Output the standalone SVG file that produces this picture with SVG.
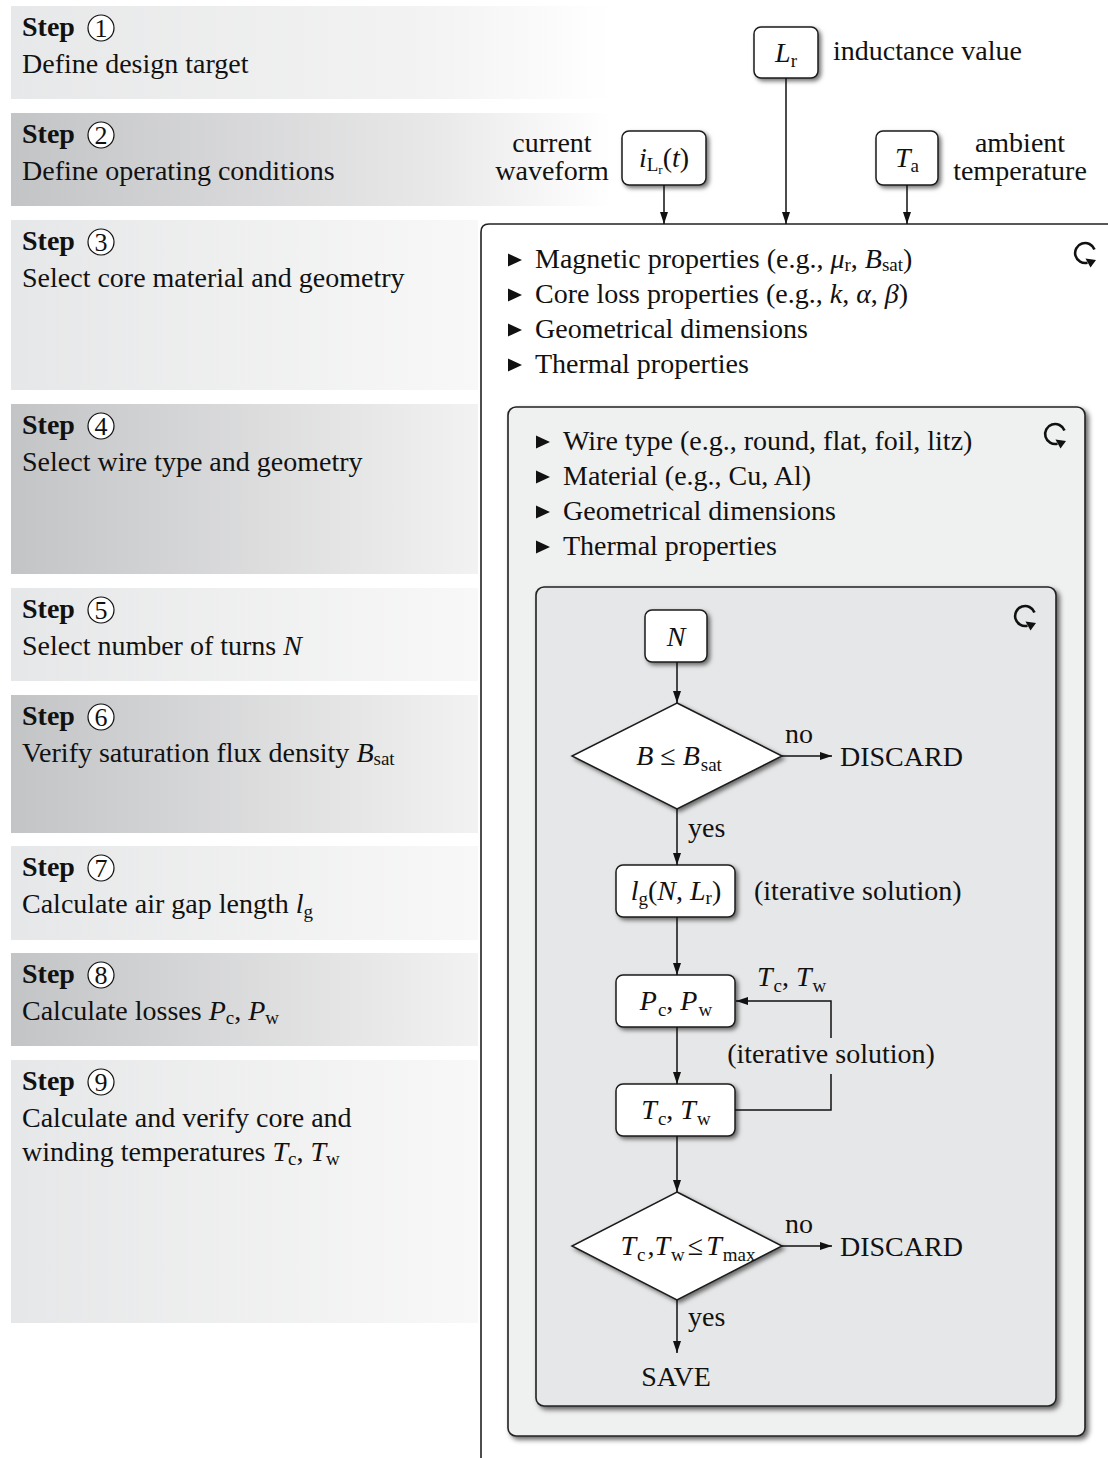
<svg xmlns="http://www.w3.org/2000/svg" width="1108" height="1458" viewBox="0 0 1108 1458">
  <style>
    .t { font-family: "Liberation Serif", "Times New Roman", serif; font-size: 28px; fill: #111; }
    .b { font-weight: bold; }
    .i { font-style: italic; }
    .sub { font-size: 19px; font-style: normal; }
    .ssub { font-size: 13px; font-style: normal; }
    .num { font-family: "Liberation Serif", "Times New Roman", serif; font-size: 26px; fill: #111; text-anchor: middle; }
    .mid { text-anchor: middle; }
    .ring { fill: #fff; stroke: #111; stroke-width: 1.2; }
    .node { fill: #fff; stroke: #1a1a1a; stroke-width: 1.5; filter: url(#sh); }
    .frame { stroke: #222; stroke-width: 1.6; }
    .conn { stroke: #111; stroke-width: 1.5; fill: none; }
    .arr { marker-end: url(#ah); }
  </style>
  <defs>
    <linearGradient id="gLightW" x1="0" y1="0" x2="1" y2="0">
      <stop offset="0" stop-color="#e7e8e9"/>
      <stop offset="0.7" stop-color="#f3f3f3"/>
      <stop offset="1" stop-color="#ffffff"/>
    </linearGradient>
    <linearGradient id="gDarkW" x1="0" y1="0" x2="1" y2="0">
      <stop offset="0" stop-color="#c3c4c6"/>
      <stop offset="0.7" stop-color="#e8e8e9"/>
      <stop offset="1" stop-color="#ffffff"/>
    </linearGradient>
    <linearGradient id="gLight" x1="0" y1="0" x2="1" y2="0">
      <stop offset="0" stop-color="#e6e7e8"/>
      <stop offset="1" stop-color="#f8f8f8"/>
    </linearGradient>
    <linearGradient id="gDark" x1="0" y1="0" x2="1" y2="0">
      <stop offset="0" stop-color="#c3c4c6"/>
      <stop offset="1" stop-color="#f2f2f2"/>
    </linearGradient>
    <filter id="sh" x="-20%" y="-20%" width="150%" height="150%">
      <feDropShadow dx="2.5" dy="2.5" stdDeviation="2" flood-color="#000" flood-opacity="0.55"/>
    </filter>
    <filter id="shBig" x="-5%" y="-5%" width="112%" height="112%">
      <feDropShadow dx="3" dy="3" stdDeviation="2.5" flood-color="#000" flood-opacity="0.6"/>
    </filter>
    <marker id="ah" viewBox="0 0 12 8" refX="12" refY="4" markerWidth="12" markerHeight="8" markerUnits="userSpaceOnUse" orient="auto">
      <path d="M0,0 L12,4 L0,8 Z" fill="#111"/>
    </marker>
    <!-- list bullet -->
    <path id="bullet" d="M0,-6.5 L14,0 L0,6.5 Z" fill="#111"/>
    <!-- repeat / loop symbol -->
    <g id="loop">
      <path d="M9.5,-3.5 A10,10 0 1 0 2.5,9.7" fill="none" stroke="#111" stroke-width="2.6"/>
      <path d="M0.5,5.5 L11,7 L5.5,14.5 Z" fill="#111"/>
    </g>
  </defs>

  <!-- step bands -->
  <g id="bands">
    <rect x="11" y="6" width="600" height="93" fill="url(#gLightW)"/>
    <rect x="11" y="113" width="600" height="93" fill="url(#gDarkW)"/>
    <rect x="11" y="220" width="467" height="170" fill="url(#gLight)"/>
    <rect x="11" y="404" width="467" height="170" fill="url(#gDark)"/>
    <rect x="11" y="588" width="467" height="93" fill="url(#gLight)"/>
    <rect x="11" y="695" width="467" height="138" fill="url(#gDark)"/>
    <rect x="11" y="846" width="467" height="94" fill="url(#gLight)"/>
    <rect x="11" y="953" width="467" height="93" fill="url(#gDark)"/>
    <rect x="11" y="1060" width="467" height="263" fill="url(#gLight)"/>
  </g>

  <!-- step labels -->
  <g id="step1">
    <text class="t b" x="22" y="36">Step</text>
    <circle class="ring" cx="101" cy="28" r="13"/><text class="num" x="101" y="37">1</text>
    <text class="t" x="22" y="73">Define design target</text>
  </g>
  <g id="step2">
    <text class="t b" x="22" y="143">Step</text>
    <circle class="ring" cx="101" cy="135" r="13"/><text class="num" x="101" y="144">2</text>
    <text class="t" x="22" y="180">Define operating conditions</text>
  </g>
  <g id="step3">
    <text class="t b" x="22" y="250">Step</text>
    <circle class="ring" cx="101" cy="242" r="13"/><text class="num" x="101" y="251">3</text>
    <text class="t" x="22" y="287">Select core material and geometry</text>
  </g>
  <g id="step4">
    <text class="t b" x="22" y="434">Step</text>
    <circle class="ring" cx="101" cy="426" r="13"/><text class="num" x="101" y="435">4</text>
    <text class="t" x="22" y="471">Select wire type and geometry</text>
  </g>
  <g id="step5">
    <text class="t b" x="22" y="618">Step</text>
    <circle class="ring" cx="101" cy="610" r="13"/><text class="num" x="101" y="619">5</text>
    <text class="t" x="22" y="655">Select number of turns <tspan class="i">N</tspan></text>
  </g>
  <g id="step6">
    <text class="t b" x="22" y="725">Step</text>
    <circle class="ring" cx="101" cy="717" r="13"/><text class="num" x="101" y="726">6</text>
    <text class="t" x="22" y="762">Verify saturation flux density <tspan class="i">B</tspan><tspan class="sub" dy="3">sat</tspan></text>
  </g>
  <g id="step7">
    <text class="t b" x="22" y="876">Step</text>
    <circle class="ring" cx="101" cy="868" r="13"/><text class="num" x="101" y="877">7</text>
    <text class="t" x="22" y="913">Calculate air gap length <tspan class="i">l</tspan><tspan class="sub" dy="5">g</tspan></text>
  </g>
  <g id="step8">
    <text class="t b" x="22" y="983">Step</text>
    <circle class="ring" cx="101" cy="975" r="13"/><text class="num" x="101" y="984">8</text>
    <text class="t" x="22" y="1020">Calculate losses <tspan class="i">P</tspan><tspan class="sub" dy="4">c</tspan><tspan dy="-4">, </tspan><tspan class="i">P</tspan><tspan class="sub" dy="4">w</tspan></text>
  </g>
  <g id="step9">
    <text class="t b" x="22" y="1090">Step</text>
    <circle class="ring" cx="101" cy="1082" r="13"/><text class="num" x="101" y="1091">9</text>
    <text class="t" x="22" y="1127">Calculate and verify core and</text>
    <text class="t" x="22" y="1161">winding temperatures <tspan class="i">T</tspan><tspan class="sub" dy="4">c</tspan><tspan dy="-4">, </tspan><tspan class="i">T</tspan><tspan class="sub" dy="4">w</tspan></text>
  </g>

  <!-- core level frame (open to the right and bottom) -->
  <g id="core-frame">
    <path class="frame" d="M481,1458 V232 Q481,224 489,224 H1108" fill="#fff"/>
    <use href="#bullet" x="508" y="260"/>
    <text class="t" x="535" y="268">Magnetic properties (e.g., <tspan class="i">μ</tspan><tspan class="sub" dy="3">r</tspan><tspan dy="-3">, </tspan><tspan class="i">B</tspan><tspan class="sub" dy="3">sat</tspan><tspan dy="-3">)</tspan></text>
    <use href="#bullet" x="508" y="295"/>
    <text class="t" x="535" y="303">Core loss properties (e.g., <tspan class="i">k</tspan>, <tspan class="i">α</tspan>, <tspan class="i">β</tspan>)</text>
    <use href="#bullet" x="508" y="330"/>
    <text class="t" x="535" y="338">Geometrical dimensions</text>
    <use href="#bullet" x="508" y="365"/>
    <text class="t" x="535" y="373">Thermal properties</text>
    <use href="#loop" x="1085" y="253"/>
  </g>

  <!-- wire level frame -->
  <g id="wire-frame">
    <rect class="frame" x="508" y="407" width="577" height="1029" rx="8" fill="#eff0f0" filter="url(#shBig)"/>
    <use href="#bullet" x="536" y="442"/>
    <text class="t" x="563" y="450">Wire type (e.g., round, flat, foil, litz)</text>
    <use href="#bullet" x="536" y="477"/>
    <text class="t" x="563" y="485">Material (e.g., Cu, Al)</text>
    <use href="#bullet" x="536" y="512"/>
    <text class="t" x="563" y="520">Geometrical dimensions</text>
    <use href="#bullet" x="536" y="547"/>
    <text class="t" x="563" y="555">Thermal properties</text>
    <use href="#loop" x="1055" y="434"/>
  </g>

  <!-- turns level frame -->
  <g id="turns-frame">
    <rect class="frame" x="536" y="587" width="520" height="819" rx="8" fill="#e6e7e8" filter="url(#shBig)"/>
    <use href="#loop" x="1025" y="616"/>
  </g>

  <!-- input nodes -->
  <g id="in-Lr">
    <rect class="node" x="754" y="27" width="64" height="51" rx="7"/>
    <text class="t mid" x="786" y="62"><tspan class="i">L</tspan><tspan class="sub" dy="5">r</tspan></text>
    <text class="t" x="833" y="60">inductance value</text>
  </g>
  <g id="in-iLr">
    <rect class="node" x="622" y="131" width="84" height="54" rx="7"/>
    <text class="t mid" x="664" y="167"><tspan class="i">i</tspan><tspan class="sub" dy="4">L</tspan><tspan class="ssub" dy="3">r</tspan><tspan dy="-7">(</tspan><tspan class="i">t</tspan>)</text>
    <text class="t mid" x="552" y="152">current</text>
    <text class="t mid" x="552" y="180">waveform</text>
  </g>
  <g id="in-Ta">
    <rect class="node" x="876" y="131" width="62" height="54" rx="7"/>
    <text class="t mid" x="907" y="167"><tspan class="i">T</tspan><tspan class="sub" dy="5">a</tspan></text>
    <text class="t mid" x="1020" y="152">ambient</text>
    <text class="t mid" x="1020" y="180">temperature</text>
  </g>

  <!-- flow nodes -->
  <g id="n-N">
    <rect class="node" x="645" y="610" width="62" height="52" rx="7"/>
    <text class="t mid i" x="676" y="646">N</text>
  </g>
  <g id="d-Bsat">
    <polygon class="node" points="677,703 782,756 677,809 572,756"/>
    <text class="t mid" x="679" y="765"><tspan class="i">B</tspan> ≤ <tspan class="i">B</tspan><tspan class="sub" dx="1" dy="6">sat</tspan></text>
  </g>
  <g id="n-lg">
    <rect class="node" x="616" y="865" width="119" height="52" rx="7"/>
    <text class="t mid" x="676" y="900"><tspan class="i">l</tspan><tspan class="sub" dy="5">g</tspan><tspan dy="-5">(</tspan><tspan class="i">N</tspan>, <tspan class="i">L</tspan><tspan class="sub" dy="4">r</tspan><tspan dy="-4">)</tspan></text>
    <text class="t" x="754" y="900">(iterative solution)</text>
  </g>
  <g id="n-P">
    <rect class="node" x="616" y="975" width="119" height="52" rx="7"/>
    <text class="t mid" x="676" y="1010"><tspan class="i">P</tspan><tspan class="sub" dx="1" dy="6">c</tspan><tspan dy="-6">, </tspan><tspan class="i">P</tspan><tspan class="sub" dx="1" dy="6">w</tspan></text>
  </g>
  <g id="n-T">
    <rect class="node" x="616" y="1084" width="119" height="52" rx="7"/>
    <text class="t mid" x="676" y="1119"><tspan class="i">T</tspan><tspan class="sub" dx="1" dy="6">c</tspan><tspan dy="-6">, </tspan><tspan class="i">T</tspan><tspan class="sub" dx="1" dy="6">w</tspan></text>
  </g>
  <g id="d-Tmax">
    <polygon class="node" points="677,1192 782,1246 677,1300 572,1246"/>
    <text class="t mid" x="688" y="1255"><tspan class="i">T</tspan><tspan class="sub" dx="1" dy="6">c</tspan><tspan dx="2" dy="-6">,</tspan><tspan class="i">T</tspan><tspan class="sub" dx="1" dy="6">w</tspan><tspan dx="3" dy="-6">≤</tspan><tspan class="i" dx="3">T</tspan><tspan class="sub" dx="1" dy="6">max</tspan></text>
  </g>
  <g id="end-labels">
    <text class="t" x="840" y="766">DISCARD</text>
    <text class="t" x="840" y="1256">DISCARD</text>
    <text class="t mid" x="676" y="1386">SAVE</text>
  </g>

  <!-- connectors -->
  <g id="connectors">
    <line class="conn arr" x1="664" y1="185" x2="664" y2="224"/>
    <line class="conn arr" x1="786" y1="78" x2="786" y2="224"/>
    <line class="conn arr" x1="907" y1="185" x2="907" y2="224"/>
    <line class="conn arr" x1="677" y1="662" x2="677" y2="703"/>
    <line class="conn arr" x1="782" y1="756" x2="832" y2="756"/>
    <line class="conn arr" x1="677" y1="809" x2="677" y2="865"/>
    <line class="conn arr" x1="677" y1="917" x2="677" y2="975"/>
    <line class="conn arr" x1="677" y1="1027" x2="677" y2="1084"/>
    <line class="conn arr" x1="677" y1="1136" x2="677" y2="1192"/>
    <line class="conn arr" x1="782" y1="1246" x2="832" y2="1246"/>
    <line class="conn arr" x1="677" y1="1300" x2="677" y2="1353"/>
    <path class="conn" d="M735,1110 H831 V1074"/>
    <path class="conn arr" d="M831,1038 V1001 H736"/>
    <text class="t" x="785" y="743">no</text>
    <text class="t" x="785" y="1233">no</text>
    <text class="t" x="688" y="837">yes</text>
    <text class="t" x="688" y="1326">yes</text>
    <text class="t" x="757" y="986"><tspan class="i">T</tspan><tspan class="sub" dx="1" dy="6">c</tspan><tspan dy="-6">, </tspan><tspan class="i">T</tspan><tspan class="sub" dx="1" dy="6">w</tspan></text>
    <text class="t mid" x="831" y="1063">(iterative solution)</text>
  </g>
</svg>
